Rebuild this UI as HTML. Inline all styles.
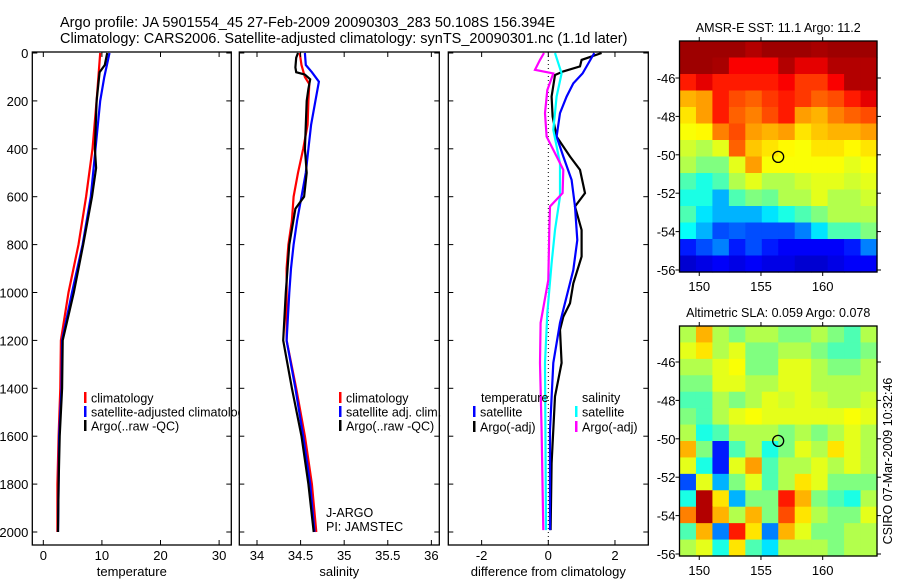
<!DOCTYPE html>
<html><head><meta charset="utf-8"><style>
html,body{margin:0;padding:0;background:#fff;}
svg{display:block;font-family:"Liberation Sans",sans-serif;}
</style></head><body>
<svg id="fig" width="900" height="580" viewBox="0 0 900 580" xmlns="http://www.w3.org/2000/svg">
<rect width="900" height="580" fill="#fff"/>
<text x="60" y="27" font-size="14.5">Argo profile: JA 5901554_45 27-Feb-2009 20090303_283 50.108S 156.394E</text>
<text x="60" y="43" font-size="14.5">Climatology: CARS2006. Satellite-adjusted climatology: synTS_20090301.nc (1.1d later)</text>
<g id="g"></g>
<text transform="translate(892,461) rotate(-90)" text-anchor="middle" font-size="12.5">CSIRO 07-Mar-2009 10:32:46</text>
</svg>
<script>
// ---------- data ----------
const depthTick=[0,200,400,600,800,1000,1200,1400,1600,1800,2000];
// temperature panel
const tClimDepth=[0,100,200,400,600,800,1000,1200,1400,1600,1800,2000];
const tClim=[9.7,9.4,9.1,8.4,7.3,6.0,4.3,3.0,2.9,2.6,2.4,2.4];
const tSatDepth=[0,100,200,400,600,800,1000,1200,1400,1600,1800,2000];
const tSat=[11.3,10.4,9.7,8.9,8.1,6.7,4.9,3.2,3.1,2.7,2.6,2.5];
const tArgoDepth=[0,50,80,200,400,480,600,800,1000,1200,1400,1600,1800,2000];
const tArgo=[10.9,10.5,9.6,9.1,8.8,9.0,8.3,6.8,5.2,3.3,3.2,2.8,2.6,2.5];
const tTicks=[0,10,20,30];
// salinity panel
const sClimDepth=[0,50,100,130,200,300,400,500,600,700,800,900,1000,1200,1400,1600,1800,2000];
const sClim=[34.49,34.51,34.55,34.60,34.59,34.58,34.53,34.47,34.42,34.40,34.36,34.34,34.34,34.34,34.45,34.55,34.63,34.68];
const sSatDepth=[0,50,80,120,200,300,400,500,600,700,800,900,1000,1200,1400,1600,1800,2000];
const sSat=[34.55,34.56,34.63,34.71,34.67,34.62,34.59,34.56,34.51,34.46,34.42,34.39,34.37,34.34,34.44,34.53,34.61,34.66];
const sArgoDepth=[0,20,60,80,90,110,150,200,400,500,600,650,800,1000,1200,1400,1600,1800,2000];
const sArgo=[34.47,34.45,34.44,34.45,34.55,34.61,34.59,34.57,34.55,34.57,34.54,34.44,34.37,34.33,34.30,34.40,34.51,34.59,34.65];
const sTicks=[34,34.5,35,35.5,36];
// difference panel
const dTSatDepth=[0,85,127,182,251,349,432,530,641,781,906,1017,1127,1294,1574,1992];
const dTSat=[1.38,1.03,0.75,0.55,0.35,0.25,0.45,0.70,0.80,0.87,0.75,0.55,0.35,0.15,0.05,0.05];
const dTArgoDepth=[0,29,56,77,92,182,265,349,432,488,585,641,739,850,962,1045,1101,1156,1294,1434,1713,1992];
const dTArgo=[1.60,1.00,0.95,0.45,0.20,0.10,0.13,0.25,0.65,0.95,1.10,0.80,1.00,1.00,0.75,0.65,0.45,0.35,0.40,0.20,0.10,0.07];
const dSSatDepth=[0,85,182,321,460,599,739,878,1087,1294,1992];
const dSSat=[0.20,0.40,0.25,0.15,0.35,0.35,0.20,0.10,-0.03,-0.10,-0.07];
const dSArgoDepth=[0,29,70,85,155,251,349,446,488,585,641,739,948,1127,1294,1574,1992];
const dSArgo=[-0.13,-0.25,-0.40,0.15,-0.03,-0.10,-0.05,0.30,0.45,0.43,0.05,0.03,0.00,-0.23,-0.25,-0.20,-0.15];
const dTicks=[-2,0,2];
// maps
const lonTicks=[150,155,160];
const latTicks=[-46,-48,-50,-52,-54,-56];
const latLabels=["-46","-48","-50","-52","-54","-56"];
const argoLon=156.394, argoLat=-50.108;
const sstGrid=[
[0.97,0.97,0.97,0.97,0.95,0.97,0.97,0.97,0.96,0.97,0.97,0.97],
[0.97,0.97,0.96,0.88,0.88,0.88,0.95,0.90,0.90,0.95,0.95,0.95],
[0.85,0.90,0.85,0.85,0.85,0.85,0.88,0.82,0.82,0.88,0.95,0.95],
[0.70,0.72,0.85,0.80,0.78,0.82,0.85,0.82,0.78,0.80,0.85,0.90],
[0.65,0.72,0.85,0.78,0.75,0.80,0.85,0.72,0.70,0.75,0.78,0.80],
[0.62,0.63,0.75,0.80,0.72,0.70,0.72,0.65,0.68,0.70,0.70,0.72],
[0.58,0.55,0.60,0.78,0.68,0.65,0.63,0.62,0.65,0.65,0.63,0.65],
[0.55,0.50,0.50,0.60,0.72,0.62,0.62,0.62,0.62,0.62,0.60,0.62],
[0.45,0.40,0.45,0.55,0.60,0.55,0.55,0.58,0.60,0.60,0.58,0.60],
[0.40,0.40,0.30,0.45,0.50,0.48,0.55,0.55,0.60,0.55,0.55,0.58],
[0.45,0.35,0.30,0.30,0.30,0.35,0.40,0.45,0.50,0.55,0.55,0.55],
[0.38,0.30,0.20,0.22,0.20,0.20,0.20,0.25,0.35,0.45,0.45,0.50],
[0.15,0.20,0.25,0.15,0.20,0.15,0.12,0.12,0.12,0.12,0.15,0.25],
[0.08,0.10,0.12,0.10,0.12,0.10,0.10,0.08,0.08,0.10,0.12,0.12]];
const slaGrid=[
[0.55,0.70,0.55,0.50,0.55,0.55,0.50,0.50,0.55,0.50,0.45,0.55],
[0.60,0.65,0.55,0.60,0.50,0.50,0.55,0.55,0.50,0.45,0.45,0.50],
[0.55,0.55,0.60,0.62,0.50,0.50,0.60,0.60,0.55,0.50,0.50,0.55],
[0.50,0.50,0.60,0.60,0.55,0.55,0.60,0.60,0.55,0.55,0.55,0.55],
[0.45,0.45,0.55,0.50,0.55,0.60,0.58,0.60,0.58,0.55,0.55,0.58],
[0.50,0.45,0.55,0.60,0.62,0.60,0.60,0.60,0.60,0.60,0.62,0.60],
[0.55,0.40,0.45,0.55,0.55,0.55,0.50,0.55,0.50,0.55,0.60,0.55],
[0.70,0.50,0.15,0.45,0.55,0.40,0.50,0.60,0.55,0.65,0.60,0.55],
[0.60,0.40,0.15,0.60,0.72,0.45,0.55,0.55,0.60,0.55,0.60,0.55],
[0.20,0.60,0.30,0.50,0.60,0.45,0.55,0.65,0.60,0.50,0.50,0.50],
[0.40,0.95,0.65,0.30,0.50,0.50,0.85,0.70,0.50,0.45,0.40,0.55],
[0.75,0.95,0.70,0.55,0.70,0.50,0.80,0.65,0.55,0.50,0.50,0.60],
[0.45,0.70,0.25,0.85,0.65,0.25,0.70,0.60,0.50,0.50,0.55,0.55],
[0.55,0.60,0.40,0.65,0.45,0.35,0.55,0.55,0.55,0.50,0.55,0.55]];

// ---------- drawing ----------
const NS="http://www.w3.org/2000/svg";
const G=document.getElementById('g');
function mk(tag,attrs,parent){const e=document.createElementNS(NS,tag);for(const k in attrs)e.setAttribute(k,attrs[k]);(parent||G).appendChild(e);return e;}
const Y0=53, YS=0.2395, AX_TOP=52, AX_BOT=545;
function yD(d){return Y0+d*YS;}
function scaleX(x0,x1,v0,v1){return v=>x0+(v-v0)*(x1-x0)/(v1-v0);}

function panel(name,x0,x1,v0,v1){
  const sx=scaleX(x0,x1,v0,v1);
  const bg=mk('rect',{x:x0,y:AX_TOP,width:x1-x0,height:AX_BOT-AX_TOP,fill:'#fff',stroke:'none'});
  
  
  return sx;
}
function frame(name,x0,x1,sx,ticks,tickLabels,xlabel,showY){
  const f=mk('rect',{x:x0,y:AX_TOP,width:x1-x0,height:AX_BOT-AX_TOP,fill:'none',stroke:'#000','stroke-width':1.3});
  
  
  ticks.forEach((t,i)=>{
    const x=sx(t);
    mk('line',{x1:x,x2:x,y1:AX_BOT,y2:AX_BOT-5,stroke:'#000'});
    mk('line',{x1:x,x2:x,y1:AX_TOP,y2:AX_TOP+5,stroke:'#000'});
    const tl=mk('text',{x:x,y:AX_BOT+15,'text-anchor':'middle','font-size':13});
    tl.textContent=tickLabels[i];
    
    
  });
  depthTick.forEach(d=>{
    const y=yD(d);
    mk('line',{x1:x0,x2:x0+5,y1:y,y2:y,stroke:'#000'});
    mk('line',{x1:x1,x2:x1-5,y1:y,y2:y,stroke:'#000'});
    if(showY){
      const tl=mk('text',{x:x0-4,y:y+5,'text-anchor':'end','font-size':13});
      tl.textContent=String(d);
      
      
    }
  });
  const xl=mk('text',{x:(x0+x1)/2,y:AX_BOT+31,'text-anchor':'middle','font-size':13});
  xl.textContent=xlabel;
  
  
}
function series(name,sx,depths,vals,color){
  const pts=depths.map((d,i)=>sx(vals[i]).toFixed(1)+','+yD(d).toFixed(1)).join(' ');
  const p=mk('polyline',{points:pts,fill:'none',stroke:color,'stroke-width':2.2,'stroke-linejoin':'miter'});
  
  
}
function legend(name,x,y,color,label){
  const m=mk('rect',{x:x,y:y-6,width:2.5,height:11,fill:color});
  
  
  const t=mk('text',{x:x+7,y:y+4.5,'font-size':12.5});
  t.textContent=label;
  
  
}

// Panel 1: temperature
const sxT=panel('temperature-panel',32.3,231.3,-1.88,32.08);
series('temp-climatology-line',sxT,tClimDepth,tClim,'#f00');
series('temp-satellite-line',sxT,tSatDepth,tSat,'#00f');
series('temp-argo-line',sxT,tArgoDepth,tArgo,'#000');
legend('legend-climatology',84,398,'#f00','climatology');
legend('legend-satellite-adjusted',84,412,'#00f','satellite-adjusted climatology');
legend('legend-argo',84,426,'#000','Argo(..raw -QC)');
frame('temperature-panel',32.3,231.3,sxT,tTicks,tTicks.map(String),'temperature',true);

// Panel 2: salinity
const sxS=panel('salinity-panel',239.3,439.3,33.797,36.091);
series('sal-climatology-line',sxS,sClimDepth,sClim,'#f00');
series('sal-satellite-line',sxS,sSatDepth,sSat,'#00f');
series('sal-argo-line',sxS,sArgoDepth,sArgo,'#000');
legend('legend-sal-climatology',339,398,'#f00','climatology');
legend('legend-sal-satellite',339,412,'#00f','satellite adj. clim.');
legend('legend-sal-argo',339,426,'#000','Argo(..raw -QC)');
const ja=mk('text',{x:326,y:517,'font-size':12.5});ja.textContent='J-ARGO';


const pi=mk('text',{x:326,y:531,'font-size':12.5});pi.textContent='PI: JAMSTEC';


frame('salinity-panel',239.3,439.3,sxS,sTicks,['34','34.5','35','35.5','36'],'salinity',false);

// Panel 3: difference
const sxD=panel('difference-panel',448.3,648.3,-3.0,3.0);
const zl=mk('line',{x1:sxD(0),x2:sxD(0),y1:AX_TOP,y2:AX_BOT,stroke:'#000','stroke-width':1,'stroke-dasharray':'1,3'});


series('diff-temp-argo-line',sxD,dTArgoDepth,dTArgo,'#000');
series('diff-temp-satellite-line',sxD,dTSatDepth,dTSat,'#00f');
series('diff-sal-satellite-line',sxD,dSSatDepth,dSSat,'#0ff');
series('diff-sal-argo-line',sxD,dSArgoDepth,dSArgo,'#f0f');
const lt=mk('text',{x:481,y:402,'font-size':12.5});lt.textContent='temperature';


const ls=mk('text',{x:582,y:402,'font-size':12.5});ls.textContent='salinity';


legend('legend-diff-temp-satellite',473,412,'#00f','satellite');
legend('legend-diff-temp-argo',473,427,'#000','Argo(-adj)');
legend('legend-diff-sal-satellite',575,412,'#0ff','satellite');
legend('legend-diff-sal-argo',575,427,'#f0f','Argo(-adj)');
frame('difference-panel',448.3,648.3,sxD,dTicks,['-2','0','2'],'difference from climatology',false);

// ---------- maps ----------
function jet(v){
  v=Math.max(0,Math.min(1,v));
  const f=(c)=>Math.max(0,Math.min(1,1.5-Math.abs(4*v-c)));
  return 'rgb('+Math.round(255*f(3))+','+Math.round(255*f(2))+','+Math.round(255*f(1))+')';
}
const MX0=679.5, MX1=877, LON0=148.4, LON1=164.4;
const mlon=scaleX(MX0,MX1,LON0,LON1);
function map(name,top,bottom,grid,title,latAt){
  const lat=v=>latAt.a-(v-latAt.v0)*latAt.s;
  const rows=grid.length, cols=grid[0].length;
  const cw=(MX1-MX0)/cols, ch=(bottom-top)/rows;
  grid.forEach((row,r)=>row.forEach((v,c)=>{
    const cell=mk('rect',{x:(MX0+c*cw).toFixed(2),y:(top+r*ch).toFixed(2),width:(cw+0.6).toFixed(2),height:(ch+0.6).toFixed(2),fill:jet(v)});
    
    
  }));
  const fr=mk('rect',{x:MX0,y:top,width:MX1-MX0,height:bottom-top,fill:'none',stroke:'#000','stroke-width':1.3});
  
  
  lonTicks.forEach(t=>{
    const x=mlon(t);
    mk('line',{x1:x,x2:x,y1:top,y2:top-4,stroke:'#000'});
    mk('line',{x1:x,x2:x,y1:bottom,y2:bottom+4,stroke:'#000'});
    const tl=mk('text',{x:x,y:bottom+19,'text-anchor':'middle','font-size':13});
    tl.textContent=String(t);
    
    
  });
  latTicks.forEach((t,i)=>{
    const y=lat(t);
    mk('line',{x1:MX0,x2:MX0-4,y1:y,y2:y,stroke:'#000'});
    mk('line',{x1:MX1,x2:MX1+4,y1:y,y2:y,stroke:'#000'});
    const tl=mk('text',{x:MX0-4,y:y+5,'text-anchor':'end','font-size':13});
    tl.textContent=latLabels[i];
    
    
  });
  const c=mk('circle',{cx:mlon(argoLon),cy:lat(argoLat),r:5.5,fill:'none',stroke:'#000','stroke-width':1.3});
  
  
  const tt=mk('text',{x:(MX0+MX1)/2,y:top-9,'text-anchor':'middle','font-size':12.5});
  tt.textContent=title;
  
  
}
map('sst-map',41,272,sstGrid,'AMSR-E SST: 11.1 Argo: 11.2',{a:78,v0:-46,s:19.2});
map('sla-map',326,556,slaGrid,'Altimetric SLA: 0.059 Argo: 0.078',{a:362,v0:-46,s:19.2});
</script>
</body></html>
